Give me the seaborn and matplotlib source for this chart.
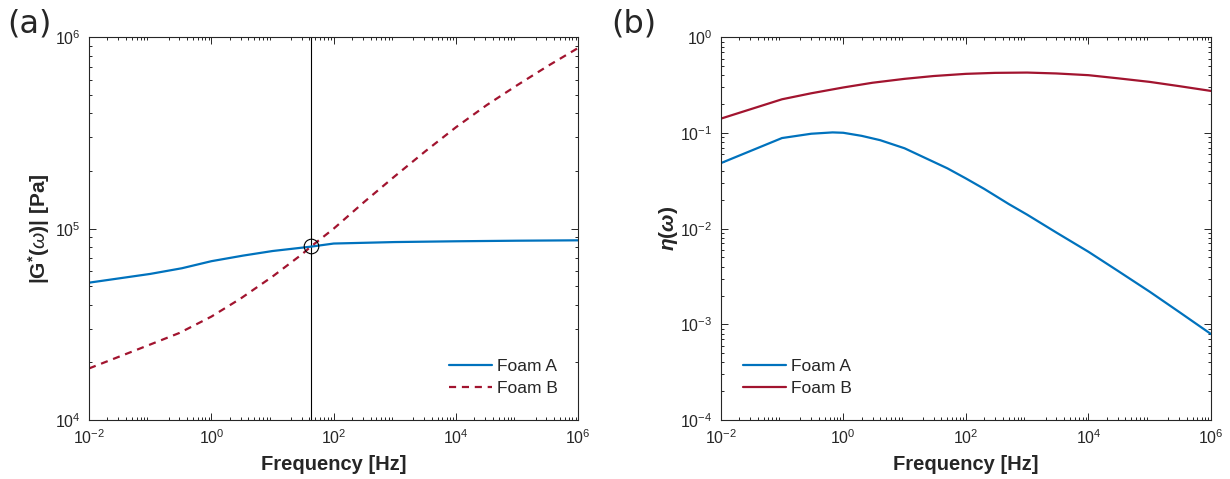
import numpy as np
import pandas as pd
import matplotlib
matplotlib.use("Agg")
import matplotlib.pyplot as plt
import seaborn as sns
from matplotlib.ticker import LogLocator, NullFormatter

# ---- data -------------------------------------------------------------
# complex modulus magnitude |G*(w)| [Pa]
freq_g_a = [0.01, 0.1, 0.33, 1, 3.3, 10, 42, 100, 1e3, 1e4, 1e5, 1e6]
foam_a_g = [5.22e4, 5.80e4, 6.21e4, 6.76e4, 7.23e4, 7.64e4, 8.05e4, 8.36e4,
            8.51e4, 8.59e4, 8.65e4, 8.69e4]
freq_g_b = [0.01, 0.1, 0.3, 1, 3, 10, 30, 42, 100, 316, 1e3, 3162, 1e4,
            31623, 1e5, 316228, 1e6]
foam_b_g = [1.86e4, 2.48e4, 2.85e4, 3.47e4, 4.31e4, 5.62e4, 7.33e4, 8.04e4,
            1.00e5, 1.38e5, 1.88e5, 2.54e5, 3.39e5, 4.42e5, 5.62e5, 7.08e5,
            8.81e5]

# crossover of the two moduli
cross_freq = 42.0
cross_g = 8.1e4

# loss factor eta(w)
freq_eta_a = [0.01, 0.1, 0.3, 0.67, 1, 2, 4, 10, 20, 50, 100, 200, 500, 1e3,
              3e3, 1e4, 3e4, 1e5, 3e5, 1e6]
foam_a_eta = [0.0483, 0.0885, 0.0982, 0.1014, 0.1005, 0.0933, 0.0841, 0.0692,
              0.0562, 0.0427, 0.0335, 0.0260, 0.0181, 0.0140, 0.0091,
              0.00573, 0.00363, 0.00219, 0.00135, 0.00079]
freq_eta_b = [0.01, 0.1, 0.3, 1, 3, 10, 30, 100, 300, 1e3, 3e3, 1e4, 3e4,
              1e5, 3e5, 1e6]
foam_b_eta = [0.141, 0.225, 0.260, 0.299, 0.335, 0.368, 0.394, 0.415, 0.425,
              0.428, 0.419, 0.402, 0.373, 0.342, 0.309, 0.275]

colors = {"Foam A": "#0072BD", "Foam B": "#A2142F"}

# ---- style ------------------------------------------------------------
sns.set_style("ticks")
plt.rcParams["font.family"] = ["Liberation Sans", "DejaVu Sans"]
plt.rcParams["mathtext.fontset"] = "custom"
plt.rcParams["mathtext.rm"] = "Liberation Sans"
plt.rcParams["mathtext.it"] = "Liberation Sans:italic"
plt.rcParams["mathtext.bf"] = "Liberation Sans:bold"
plt.rcParams["mathtext.bfit"] = "Liberation Sans:italic:bold"
plt.rcParams["axes.edgecolor"] = "#262626"
plt.rcParams["axes.linewidth"] = 0.8


def frame(freq, values, name):
    return pd.DataFrame({"freq": freq, "value": values, "foam": name})


df_g = pd.concat([frame(freq_g_a, foam_a_g, "Foam A"),
                  frame(freq_g_b, foam_b_g, "Foam B")], ignore_index=True)
df_eta = pd.concat([frame(freq_eta_a, foam_a_eta, "Foam A"),
                    frame(freq_eta_b, foam_b_eta, "Foam B")], ignore_index=True)

fig = plt.figure(figsize=(12.3, 4.79), dpi=100)
ax1 = fig.add_axes([0.0724, 0.1232, 0.3978, 0.7989])
ax2 = fig.add_axes([0.5859, 0.1232, 0.3987, 0.7989])

tick_color = "#262626"


def style_log_axes(ax, ylim):
    ax.set_xscale("log")
    ax.set_yscale("log")
    ax.set_xlim(1e-2, 1e6)
    ax.set_ylim(*ylim)
    ax.yaxis.set_major_locator(LogLocator(base=10, numticks=20))
    ax.xaxis.set_minor_locator(LogLocator(base=10, subs=np.arange(2, 10), numticks=40))
    ax.yaxis.set_minor_locator(LogLocator(base=10, subs=np.arange(2, 10), numticks=40))
    ax.xaxis.set_minor_formatter(NullFormatter())
    ax.yaxis.set_minor_formatter(NullFormatter())
    ax.set_xticks([1e-2, 1e0, 1e2, 1e4, 1e6])
    ax.tick_params(which="both", direction="in", top=True, right=True,
                   colors=tick_color, labelcolor=tick_color, width=0.7)
    ax.tick_params(which="major", length=5, labelsize=11.5, pad=6)
    ax.tick_params(which="minor", length=2.5)
    for s in ax.spines.values():
        s.set_visible(True)
        s.set_color(tick_color)
    ax.set_xlabel("Frequency [Hz]", fontsize=14.5, fontweight="bold",
                  color=tick_color, labelpad=6)


legend_kw = dict(loc="upper left", frameon=False, fontsize=12.5,
                 handlelength=2.5, handletextpad=0.3, labelspacing=0.4,
                 borderpad=0, borderaxespad=0)

# ---- (a) |G*| -----------------------------------------------------------
sns.lineplot(data=df_g[df_g.foam == "Foam A"], x="freq", y="value", ax=ax1,
             color=colors["Foam A"], linewidth=1.6, label="Foam A")
sns.lineplot(data=df_g[df_g.foam == "Foam B"], x="freq", y="value", ax=ax1,
             color=colors["Foam B"], linewidth=1.6, label="Foam B")
ax1.lines[1].set_linestyle((0, (3.2, 2.6)))
ax1.axvline(cross_freq, color="black", linewidth=0.8, zorder=1)
ax1.plot([cross_freq], [cross_g], marker="o", markersize=10.5,
         markerfacecolor="none", markeredgecolor="black", markeredgewidth=0.8,
         linestyle="none")
style_log_axes(ax1, (1e4, 1e6))
ax1.set_ylabel(r"$\mathbf{|G^{*}(}\mathit{\omega}\mathbf{)|\ [Pa]}$", fontsize=15,
               color=tick_color, labelpad=2)
h, l = ax1.get_legend_handles_labels()
ax1.legend(h[:2], l[:2], bbox_to_anchor=(0.735, 0.16), **legend_kw)

# ---- (b) eta ------------------------------------------------------------
sns.lineplot(data=df_eta[df_eta.foam == "Foam A"], x="freq", y="value", ax=ax2,
             color=colors["Foam A"], linewidth=1.6, label="Foam A")
sns.lineplot(data=df_eta[df_eta.foam == "Foam B"], x="freq", y="value", ax=ax2,
             color=colors["Foam B"], linewidth=1.6, label="Foam B")
style_log_axes(ax2, (1e-4, 1e0))
ax2.set_ylabel(r"$\mathbfit{\eta}\mathbf{(}\mathbfit{\omega}\mathbf{)}$",
               fontsize=15, color=tick_color, labelpad=0)
ax2.legend(bbox_to_anchor=(0.045, 0.16), **legend_kw)

# panel letters
fig.text(0.006, 0.982, "(a)", fontsize=23, family="DejaVu Sans", va="top", ha="left")
fig.text(0.497, 0.982, "(b)", fontsize=23, family="DejaVu Sans", va="top", ha="left")

fig.savefig("out.png", dpi=100)
